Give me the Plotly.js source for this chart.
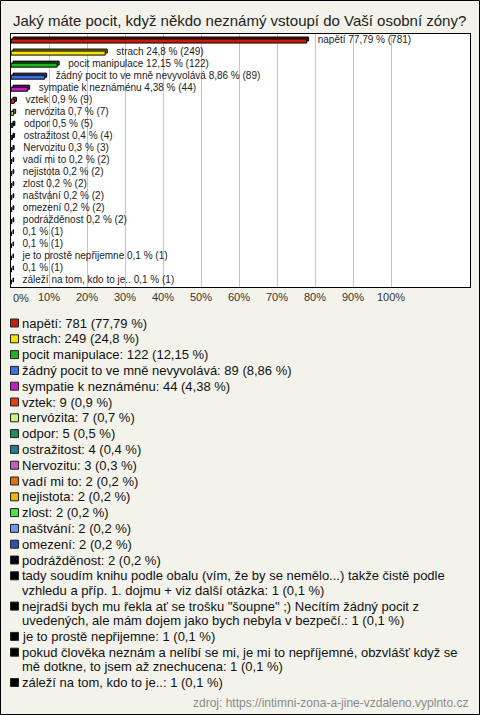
<!DOCTYPE html>
<html>
<head>
<meta charset="utf-8">
<script src="https://cdn.plot.ly/plotly-3.0.1.min.js"></script>
<style>
  html, body { margin: 0; padding: 0; background: #f3f3eb; }
  #chart { width: 480px; height: 715px; }
</style>
</head>
<body>
<div id="chart"></div>
<script>
// ---- data ----
const titleText = "Jaký máte pocit, když někdo neznámý vstoupí do Vaší osobní zóny?";
const categories = [
  "napětí",
  "strach",
  "pocit manipulace",
  "žádný pocit to ve mně nevyvolává",
  "sympatie k neznáménu",
  "vztek",
  "nervózita",
  "odpor",
  "ostražitost",
  "Nervozitu",
  "vadí mi to",
  "nejistota",
  "zlost",
  "naštvání",
  "omezení",
  "podrážděnost",
  "tady soudím knihu podle obalu (vím, že by se nemělo...) takže čistě podle vzhledu a příp. 1. dojmu + viz další otázka",
  "nejradši bych mu řekla ať se trošku \"šoupne\" ;) Necítím žádný pocit z uvedených, ale mám dojem jako bych nebyla v bezpečí.",
  "je to prostě nepřijemne",
  "pokud člověka neznám a nelíbí se mi, je mi to nepříjemné, obzvlášť když se mě dotkne, to jsem až znechucena",
  "záleží na tom, kdo to je.."
];
const counts = [781, 249, 122, 89, 44, 9, 7, 5, 4, 3, 2, 2, 2, 2, 2, 2, 1, 1, 1, 1, 1];
const percents = [77.79, 24.8, 12.15, 8.86, 4.38, 0.9, 0.7, 0.5, 0.4, 0.3, 0.2, 0.2, 0.2, 0.2, 0.2, 0.2, 0.1, 0.1, 0.1, 0.1, 0.1];
const colors = [
  "#c41f0c", "#f6e200", "#20b420", "#3e6fdf", "#c21fc2", "#e0420e",
  "#c8f27c", "#1c8e5c", "#207f8a", "#c060c0", "#e2720e", "#e8b600",
  "#4ee43c", "#6f98e6", "#2f4fae", "#000000", "#000000", "#000000",
  "#000000", "#000000", "#000000"
];
const tickValues = [0, 10, 20, 30, 40, 50, 60, 70, 80, 90, 100];
const tickLabels = ["0%", "10%", "20%", "30%", "40%", "50%", "60%", "70%", "80%", "90%", "100%"];
const sourceText = "zdroj: https://intimni-zona-a-jine-vzdaleno.vyplnto.cz";

// ---- layout geometry (pixels) ----
const W = 480, H = 715;
const PL = 11, PR = 470, PT = 34, PB = 287;
const PXPERPCT = 3.8;
const px2x = px => (px - PL) / (PR - PL);
const py2y = py => (PB - py) / (PB - PT);
const fmt = v => String(v).replace('.', ',');

const FONT = "Liberation Sans, Arial, sans-serif";
const idx = categories.map((_, i) => i);

function darken(hex, f) {
  const n = parseInt(hex.slice(1), 16);
  const r = Math.round(((n >> 16) & 255) * f), g = Math.round(((n >> 8) & 255) * f), b = Math.round((n & 255) * f);
  return "rgb(" + r + "," + g + "," + b + ")";
}

// 3D-ish back face
const backTrace = {
  type: "bar", orientation: "h",
  x: percents, y: idx,
  base: percents.map(() => 2 / PXPERPCT),
  width: 4 / 12, offset: -3 / 12,
  marker: { color: colors.map(c => darken(c, 0.55)), line: { color: "#000", width: 1 } },
  hoverinfo: "skip", showlegend: false
};
const frontTrace = {
  type: "bar", orientation: "h",
  x: percents, y: idx,
  width: 4 / 12, offset: -1 / 12,
  marker: { color: colors, line: { color: "#000", width: 1 } },
  hoverinfo: "skip", showlegend: false
};
const barLabels = categories.map((c, i) => (c.length < 50 ? c + " " : "") + fmt(percents[i]) + " % (" + counts[i] + ")");
const textTrace = {
  type: "scatter", mode: "text",
  x: percents, y: idx,
  text: barLabels.map(t => "\u00a0\u00a0\u00a0\u00a0" + t),
  textposition: "middle right",
  textfont: { family: FONT, size: 10, color: "#222" },
  cliponaxis: false, hoverinfo: "skip", showlegend: false
};

// ---- legend (custom, below plot) ----
const ctx = document.createElement("canvas").getContext("2d");
ctx.font = "13px 'Liberation Sans'";
function wrap(text, maxW) {
  const words = text.split(" ");
  const lines = [];
  let cur = "";
  for (const w of words) {
    const t = cur ? cur + " " + w : w;
    if (ctx.measureText(t).width > maxW && cur) { lines.push(cur); cur = w; }
    else cur = t;
  }
  if (cur) lines.push(cur);
  return lines;
}
const annotations = [];
const shapes = [];
let ly = 323;
const ITEM_STEP = 15.8, LINE_STEP = 14.5;
categories.forEach((c, i) => {
  const full = c + ": " + counts[i] + " (" + fmt(percents[i]) + " %)";
  const lines = wrap(full, 452);
  shapes.push({
    type: "rect", xref: "paper", yref: "paper",
    x0: px2x(10.5), x1: px2x(18.5), y0: py2y(ly - 4), y1: py2y(ly + 4),
    fillcolor: colors[i], line: { color: "#222", width: 1 }
  });
  lines.forEach((ln, k) => {
    annotations.push({
      xref: "paper", yref: "paper", x: px2x(20), y: py2y(ly + k * LINE_STEP),
      xanchor: "left", yanchor: "middle", showarrow: false, text: ln,
      font: { family: FONT, size: 13, color: "#111" }
    });
  });
  ly += (lines.length - 1) * LINE_STEP + ITEM_STEP;
});
annotations.push({
  xref: "paper", yref: "paper", x: px2x(470), y: py2y(703),
  xanchor: "right", yanchor: "middle", showarrow: false, text: sourceText,
  font: { family: FONT, size: 12, color: "#8a8a8a" }
});
// first tick label, left-aligned at the axis start as in the reference
annotations.push({
  xref: "x", yref: "paper", x: tickValues[0], y: py2y(298),
  xanchor: "left", yanchor: "middle", showarrow: false, text: tickLabels[0],
  font: { family: FONT, size: 11, color: "#333" }
});
// outer frame
shapes.push({
  type: "rect", xref: "paper", yref: "paper",
  x0: px2x(0.5), x1: px2x(W - 0.5), y0: py2y(0.5), y1: py2y(H - 0.5),
  line: { color: "#000", width: 1 }, fillcolor: "rgba(0,0,0,0)", layer: "below"
});

const layout = {
  width: W, height: H,
  margin: { l: PL, r: W - PR, t: PT, b: H - PB, pad: 0 },
  paper_bgcolor: "#f3f3eb", plot_bgcolor: "#ffffff",
  barmode: "overlay",
  showlegend: false,
  title: {
    text: titleText, xref: "container", yref: "container",
    x: 13 / W, xanchor: "left", y: 1 - 21 / H, yanchor: "middle",
    font: { family: FONT, size: 15, color: "#222" }
  },
  xaxis: {
    range: [0, (PR - PL) / PXPERPCT], fixedrange: true,
    tickmode: "array", tickvals: tickValues,
    ticktext: tickLabels.map((t, i) => i === 0 ? "" : t),
    tickfont: { family: FONT, size: 11, color: "#333" },
    ticks: "", showgrid: true, gridcolor: "#c4c4c4", gridwidth: 1,
    zeroline: false, showline: true, mirror: true, linecolor: "#000", linewidth: 1
  },
  yaxis: {
    range: [categories.length - 0.5, -0.5], fixedrange: true,
    showticklabels: false, ticks: "", showgrid: false, zeroline: false,
    showline: true, mirror: true, linecolor: "#000", linewidth: 1
  },
  shapes: shapes,
  annotations: annotations,
  hovermode: false
};

Plotly.newPlot("chart", [backTrace, frontTrace, textTrace], layout, { displayModeBar: false, staticPlot: true });
</script>
</body>
</html>
